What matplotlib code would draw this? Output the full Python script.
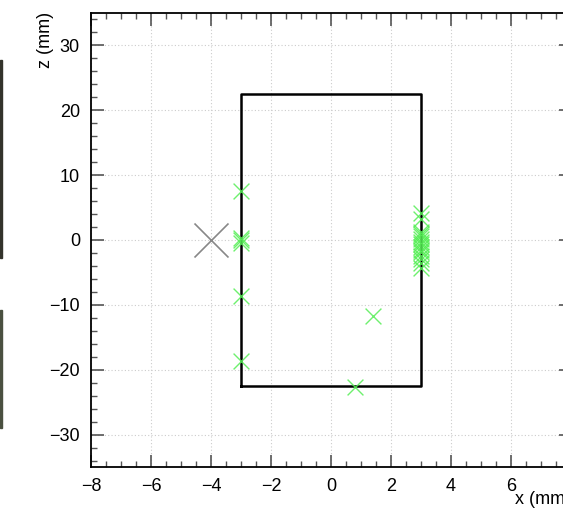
import numpy as np
import matplotlib.pyplot as plt
from matplotlib.patches import Rectangle
from matplotlib.ticker import MultipleLocator

plt.rcParams['font.family'] = ['Liberation Sans', 'DejaVu Sans']

# detector box outline (mm)
box_x = [-3, 3]
box_z = [-22.5, 22.5]

# source position
src_x = [-4.0]
src_z = [0.0]

# hit positions
hit_x = [-3, -3, -3, -3, -3, -3,
         1.4, 0.8,
         3, 3, 3, 3, 3, 3, 3, 3, 3, 3, 3, 3, 3, 3, 3]
hit_z = [7.6, 0.3, 0.0, -0.5, -8.7, -18.6,
         -11.7, -22.6,
         4.2, 3.2, 1.2, 0.6, 0.2, -0.3, -0.6, -1.1, -1.5, -1.9, -2.4, -2.9, -3.6, -4.3, 0.9]

fig = plt.figure(figsize=(5.63, 5.12), dpi=100)
W, H = 563, 512
ax = fig.add_axes([91 / W, 1 - 467 / H, 480 / W, 454 / H])

ax.set_xlim(-8, 8)
ax.set_ylim(-35, 35)

ax.plot(box_x + box_x[::-1] + box_x[:1],
        [box_z[0], box_z[0], box_z[1], box_z[1], box_z[0]],
        color='black', lw=1.8, zorder=3)

ax.scatter(src_x, src_z, marker='x', s=600, color='#888888', linewidths=1.2, zorder=4)
ax.scatter(hit_x, hit_z, marker='x', s=130, color='#55ee55', linewidths=1.0, alpha=0.85, zorder=5)

ax.xaxis.set_major_locator(MultipleLocator(2))
ax.xaxis.set_minor_locator(MultipleLocator(0.5))
ax.yaxis.set_major_locator(MultipleLocator(10))
ax.yaxis.set_minor_locator(MultipleLocator(2))
ax.tick_params(which='both', direction='in', top=True, right=True, color='#555555')
ax.tick_params(which='major', length=9, width=1.2, labelsize=13, pad=8)
ax.tick_params(which='minor', length=4.5, width=1.0)
ax.grid(True, which='major', linestyle=(0, (1, 2)), color='#cccccc', lw=0.8)
for s in ax.spines.values():
    s.set_linewidth(1.3)

# the label at x = 8 falls outside the picture
fig.canvas.draw()
for t, lab in zip(ax.get_xticks(), ax.get_xticklabels()):
    if t > 7:
        lab.set_visible(False)

fig.text(45 / W, 1 - 40 / H, 'z (mm)', rotation=90, ha='center', va='center', fontsize=13)
fig.text(515 / W, 1 - 500 / H, 'x (mm)', ha='left', va='center', fontsize=13)

# sliver of neighbouring panel at the left edge
fig.patches.append(Rectangle((0, 1 - 258 / H), 1.6 / W, 198 / H, transform=fig.transFigure,
                             color='#33332b', zorder=0))
fig.patches.append(Rectangle((0, 1 - 428 / H), 1.6 / W, 118 / H, transform=fig.transFigure,
                             color='#4a5040', zorder=0))

fig.savefig('out.png', dpi=100)
